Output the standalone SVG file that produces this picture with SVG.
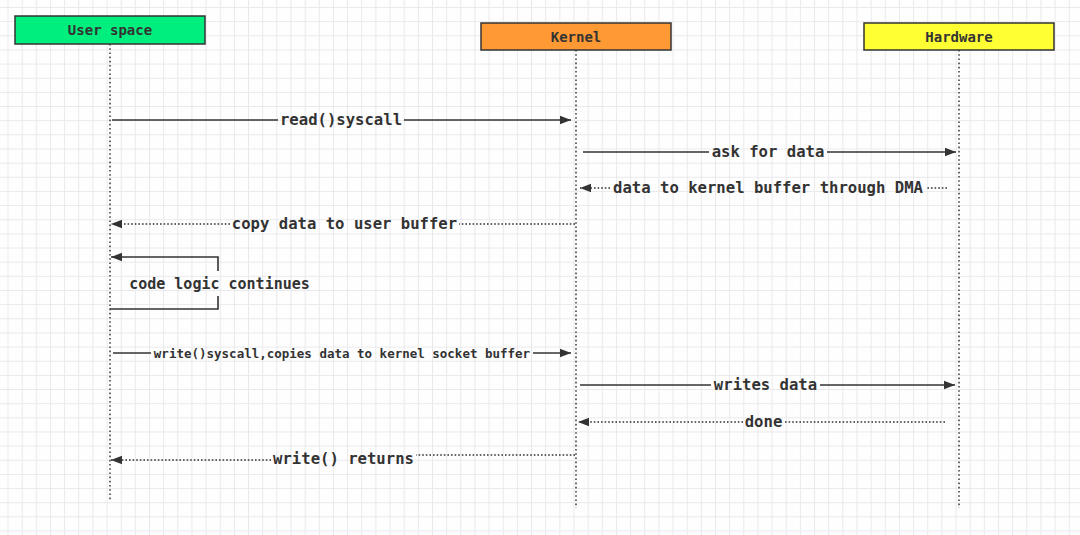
<svg xmlns="http://www.w3.org/2000/svg" width="1080" height="535" viewBox="0 0 1080 535">
<defs>
<pattern id="grid" x="7.5" y="7" width="14.15" height="14.15" patternUnits="userSpaceOnUse">
<path d="M0.5 0V14.15M0 0.5H14.15" fill="none" stroke="#e9e9ec" stroke-width="1"/>
</pattern>
<marker id="ah" markerWidth="12" markerHeight="10" refX="11" refY="5" orient="auto" markerUnits="userSpaceOnUse">
<path d="M0 0.8L11 5L0 9.2Z" fill="#333"/>
</marker>
<style>
.box{stroke:#333;stroke-width:1.5}
.hd{font-family:"DejaVu Sans Mono","Liberation Mono",monospace;font-weight:bold;font-size:14px;fill:#333;text-anchor:middle}
.lb{font-family:"DejaVu Sans Mono","Liberation Mono",monospace;font-weight:bold;font-size:15.6px;fill:#333;text-anchor:middle}
.sm{font-size:12.5px}
.life{stroke:#444;stroke-width:1.6;stroke-dasharray:1.6 2.6;fill:none}
.sol{stroke:#333;stroke-width:1.6;fill:none}
.dot{stroke:#333;stroke-width:1.6;stroke-dasharray:1.6 2;fill:none}
</style>
</defs>
<rect width="1080" height="535" fill="#fefefe"/>
<rect width="1080" height="535" fill="url(#grid)"/>

<g id="lifelines">
<line class="life" x1="110" y1="44" x2="110" y2="501"/>
<line class="life" x1="576" y1="50" x2="576" y2="508"/>
<line class="life" x1="959" y1="50" x2="959" y2="508"/>
</g>

<g id="user-space">
<rect class="box" x="15" y="16" width="190" height="28" fill="#00ee7d"/>
<text class="hd" x="110" y="35">User space</text>
</g>
<g id="kernel">
<rect class="box" x="481" y="23" width="190" height="27" fill="#ff9933"/>
<text class="hd" x="576" y="42">Kernel</text>
</g>
<g id="hardware">
<rect class="box" x="864" y="23" width="190" height="27" fill="#ffff33"/>
<text class="hd" x="959" y="42">Hardware</text>
</g>

<g id="connectors">
<path class="sol" d="M112 120H278"/>
<path class="sol" d="M404 120H571" marker-end="url(#ah)"/>
<text class="lb" x="341" y="125">read()syscall</text>

<path class="sol" d="M583 152H709"/>
<path class="sol" d="M827 152H956" marker-end="url(#ah)"/>
<text class="lb" x="768" y="157">ask for data</text>

<path class="dot" d="M947 188H926"/>
<path class="dot" d="M610 188H580" marker-end="url(#ah)"/>
<text class="lb" x="768" y="193">data to kernel buffer through DMA</text>

<path class="dot" d="M575 224H459"/>
<path class="dot" d="M230 224H111" marker-end="url(#ah)"/>
<text class="lb" x="344.5" y="229">copy data to user buffer</text>

<path class="sol" d="M218 271V257H111" marker-end="url(#ah)"/>
<path class="sol" d="M218 296V309H110"/>
<text class="lb" x="219.5" y="289" style="font-size:15px">code logic continues</text>

<path class="sol" d="M113 353H151"/>
<path class="sol" d="M533 353H571" marker-end="url(#ah)"/>
<text class="lb sm" x="342" y="357.5">write()syscall,copies data to kernel socket buffer</text>

<path class="sol" d="M580 385H711"/>
<path class="sol" d="M820 385H955" marker-end="url(#ah)"/>
<text class="lb" x="765.5" y="390">writes data</text>

<path class="dot" d="M945 422H784"/>
<path class="dot" d="M743 422H578" marker-end="url(#ah)"/>
<text class="lb" x="763.5" y="427">done</text>

<path class="dot" d="M575 455H416"/>
<path class="dot" d="M271 460H111" marker-end="url(#ah)"/>
<text class="lb" x="343.5" y="464">write() returns</text>
</g>
</svg>
